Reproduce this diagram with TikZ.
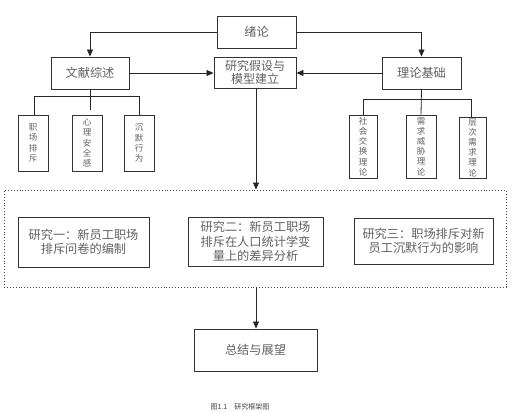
\documentclass[tikz,border=0pt]{standalone}
\usepackage{fontspec}
\setmainfont{Noto Sans CJK SC}
\usetikzlibrary{arrows.meta}
\begin{document}
\begin{tikzpicture}[x=1pt,y=-1pt,
  box/.style={draw=black!80, line width=0.9pt, fill=white, text=black!62, align=center, inner sep=0pt, font=\fontsize{12.2}{14.5}\selectfont},
  vbox/.style={draw=black!80, line width=0.8pt, fill=white, text=black!62, align=center, inner sep=0pt, font=\fontsize{8.5}{10.2}\selectfont},
  conn/.style={draw=black!85, line width=0.8pt},
  arr/.style={conn, -{Triangle[length=7pt,width=6pt]}}]
\useasboundingbox (0,0) rectangle (517,412);
% main boxes
\node[box, minimum width=79pt, minimum height=32pt] (xl) at (256.5,32) {绪论};
\node[box, minimum width=78pt, minimum height=32pt] (wx) at (90,73) {文献综述};
\node[box, minimum width=82pt, minimum height=31pt, font=\fontsize{12}{13.5}\selectfont] (yj) at (255,72.5) {研究假设与\\模型建立};
\node[box, minimum width=79pt, minimum height=32pt] (ll) at (421.5,73) {理论基础};
% left sub boxes
\node[vbox, minimum width=30pt, minimum height=56pt] (a1) at (33,143) {职\\场\\排\\斥};
\node[vbox, minimum width=30pt, minimum height=56pt] (a2) at (87,143) {心\\理\\安\\全\\感};
\node[vbox, minimum width=30pt, minimum height=56pt] (a3) at (139,143) {沉\\默\\行\\为};
% right sub boxes
\node[vbox, minimum width=28pt, minimum height=63pt] (b1) at (363,146.5) {社\\会\\交\\换\\理\\论};
\node[vbox, minimum width=30pt, minimum height=63pt] (b2) at (421,146.5) {需\\求\\威\\胁\\理\\论};
\node[vbox, minimum width=27pt, minimum height=61pt] (b3) at (472.5,147.5) {层\\次\\需\\求\\理\\论};
% study frame
\node[draw=black!75, dotted, line width=0.9pt, minimum width=502pt, minimum height=97pt, inner sep=0pt] (study) at (255,238.5) {};
\node[box, minimum width=131pt, minimum height=50pt] (s1) at (83.5,242) {研究一：新员工职场\\排斥问卷的编制};
\node[box, minimum width=135pt, minimum height=49pt] (s2) at (255.5,241.5) {研究二：新员工职场\\排斥在人口统计学变\\量上的差异分析};
\node[box, minimum width=139pt, minimum height=46pt] (s3) at (423.5,241) {研究三：职场排斥对新\\员工沉默行为的影响};
\node[box, minimum width=123pt, minimum height=42pt] (zj) at (255.5,350) {总结与展望};
\node[text=black!75, font=\fontsize{7}{8}\selectfont, inner sep=0pt] (cap) at (240,407) {图1.1\quad 研究框架图};
% connectors
\draw[arr] (xl.west) -| (wx.north);
\draw[arr] (xl.east) -| (ll.north);
\draw[arr] (wx.east) -- (wx.east -| yj.west);
\draw[arr] (ll.west) -- (ll.west -| yj.east);
\coordinate (yjs) at (256,88);
\draw[arr] (yjs) -- (yjs |- study.north);
\coordinate (sts) at (256,287);
\draw[arr] (sts) -- (sts |- zj.north);
% left tree
\coordinate (lstem) at (90,110);
\coordinate (lh1) at (34,96);
\coordinate (lh2) at (139,96);
\draw[conn] (wx.south) -- (lstem);
\draw[conn] (a1.north -| lh1) -- (lh1) -- (lh2) -- (a3.north);
% right tree
\coordinate (rh1) at (363,99);
\coordinate (rh2) at (471,99);
\draw[conn] (ll.south) -- (b2.north);
\draw[conn] (b1.north) -- (rh1) -- (rh2) -- (rh2 |- b3.north);
\end{tikzpicture}
\end{document}
